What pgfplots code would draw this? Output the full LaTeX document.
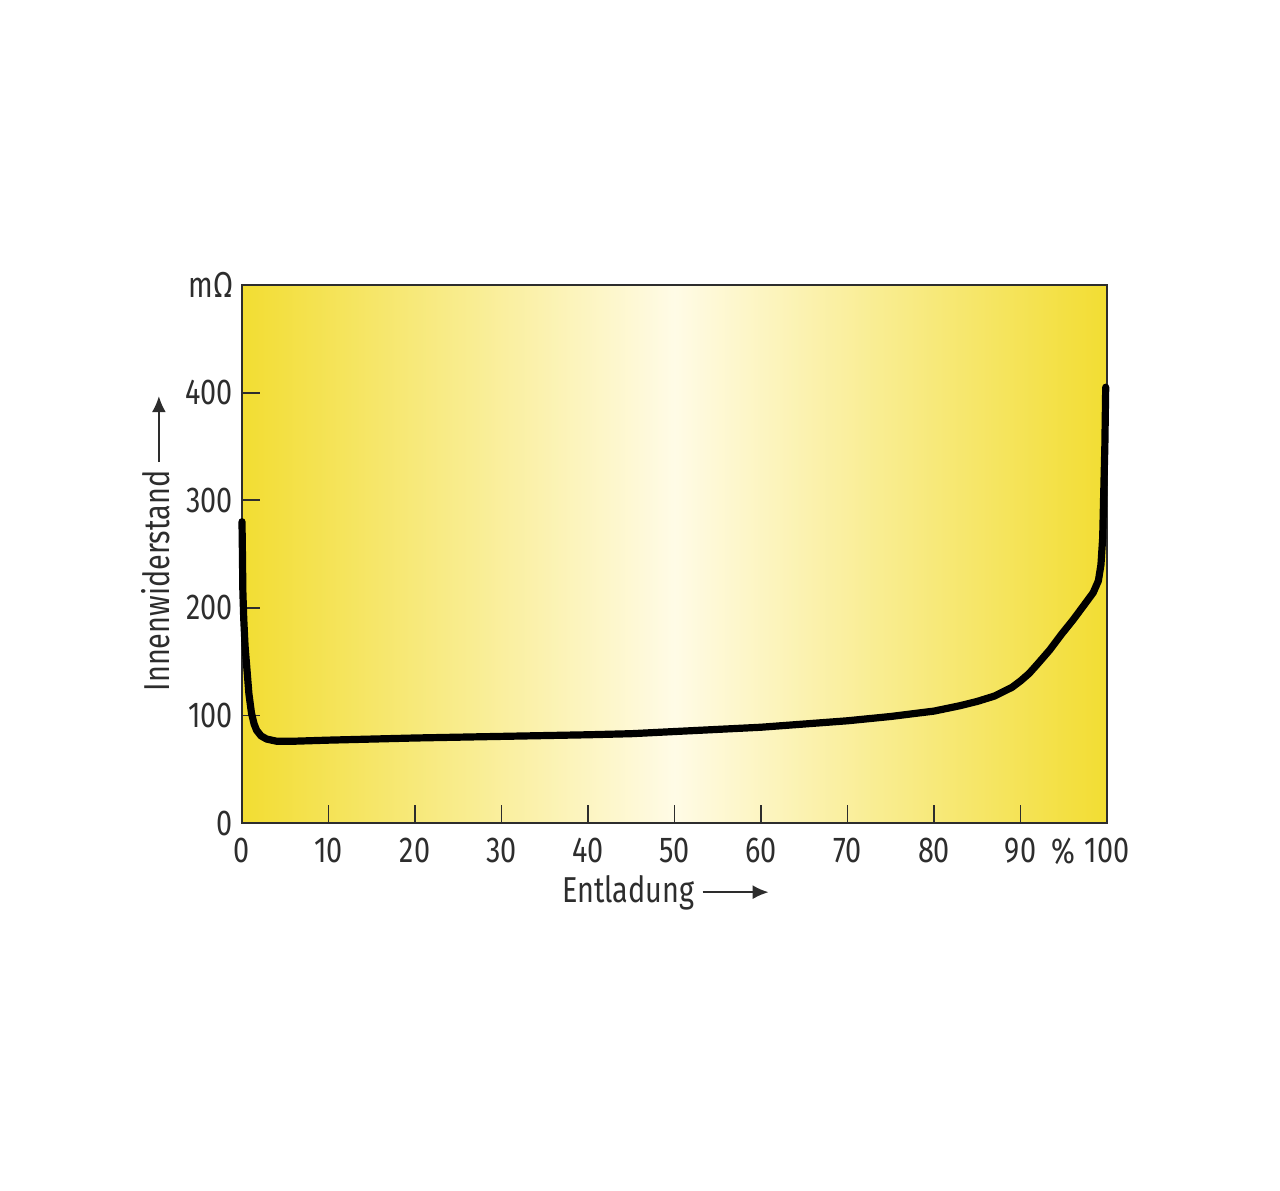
\documentclass[border=0pt]{standalone}
\usepackage{pgfplots}
\pgfplotsset{compat=1.18}
\usepackage{fontspec}
\setmainfont[FakeStretch=0.8]{Fira Sans}
\usetikzlibrary{arrows.meta}
\definecolor{ylw}{RGB}{242,221,50}
\definecolor{mid}{RGB}{255,251,230}
\definecolor{txt}{RGB}{45,45,45}
\newcommand{\larrow}{\tikz[baseline=-0.55ex]\draw[line width=1pt,-{Latex[length=8pt,width=7pt]}] (0,0)--(33pt,0);}
\begin{document}
\begin{tikzpicture}
\path[use as bounding box] (0,0) rectangle (640pt,595pt);
\begin{axis}[
  at={(121pt,183.5pt)}, anchor=south west,
  scale only axis, width=432.5pt, height=269pt,
  xmin=0, xmax=100, ymin=0, ymax=500,
  xtick={0,10,...,100}, ytick={0,100,...,500},
  yticklabels={0,100,200,300,400,mΩ},
  extra x ticks={95}, extra x tick labels={\%},
  extra x tick style={major tick length=0pt},
  tick align=inside, tick pos=left,
  major tick length=9pt,
  axis line style={txt, line width=0.8pt},
  every tick/.style={txt, line width=0.9pt},
  tick label style={font=\fontsize{18}{20}\selectfont, text=txt},
  /pgf/number format/assume math mode=true,
  xticklabel style={yshift=-4pt},
  yticklabel style={xshift=-1pt},
  axis background/.style={left color=ylw, right color=ylw, middle color=mid},
  xlabel={Entladung \larrow},
  ylabel={Innenwiderstand \larrow},
  label style={font=\fontsize{18}{20}\selectfont, text=txt},
  xlabel style={at={(axis description cs:0.49,-0.13)}, anchor=center},
  ylabel style={at={(axis description cs:-0.1,0.52)}, anchor=center},
  clip=false,
]
\addplot[black, line width=3.6pt, line join=round, line cap=round] coordinates {
(0,280) (0.05,250) (0.1,215) (0.2,190) (0.35,165) (0.55,145) (0.8,120) (1.1,102) (1.4,92) (1.7,86) (2.2,81) (2.85,78) (4,76) (6,76) (10,77) (15,78) (20,79) (30,80.5) (40,82) (45,83) (50,85) (55,87) (60,89) (65,92) (70,95) (75,99) (80,104) (83,109) (85,113) (87,118) (89,126) (90,132) (91,139) (92,148) (93.4,161) (94.7,175) (96.1,189) (97.3,202) (98.4,214) (99.0,225) (99.3,240) (99.5,265) (99.6,300) (99.75,350) (99.85,405)
};
\end{axis}
\end{tikzpicture}
\end{document}
